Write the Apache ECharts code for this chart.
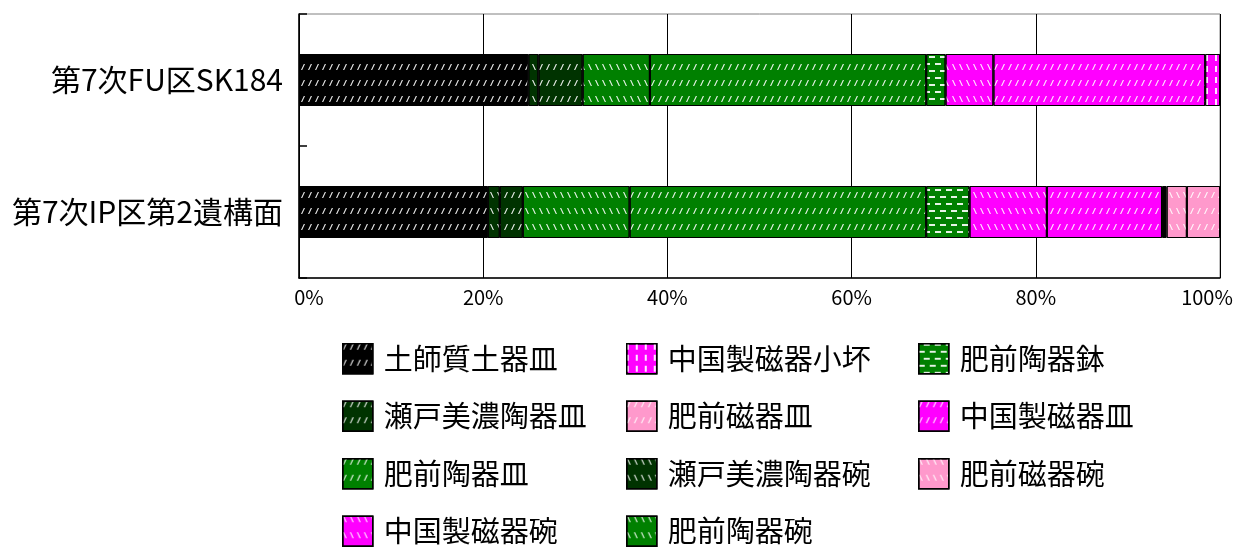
<!DOCTYPE html>
<html>
<head>
<meta charset="utf-8">
<script src="https://cdn.jsdelivr.net/npm/echarts@6/dist/echarts.min.js"></script>
<style>
  html, body { margin: 0; padding: 0; background: #ffffff; }
  #chart { width: 1238px; height: 549px; }
</style>
</head>
<body>
<div id="chart"></div>
<script>
// ---- data (percent of each feature's assemblage) ----
const categories = ['第7次FU区SK184', '第7次IP区第2遺構面'];
const seriesNames = [
  '土師質土器皿', '瀬戸美濃陶器碗', '瀬戸美濃陶器皿', '肥前陶器碗', '肥前陶器皿', '肥前陶器鉢',
  '中国製磁器碗', '中国製磁器皿', '中国製磁器小坏', 'その他', '肥前磁器碗', '肥前磁器皿'
];
const fuSK184Values   = [24.9, 1.1, 4.8, 7.3, 30.0, 2.1, 5.2, 23.0, 1.6, 0, 0, 0];
const ipIsekoumenValues = [20.5, 1.3, 2.5, 11.6, 32.2, 4.7, 8.4, 12.5, 0, 0.5, 2.2, 3.6];
const xTickValues = [0, 20, 40, 60, 80, 100];
const legendColumn1 = ['土師質土器皿', '瀬戸美濃陶器皿', '肥前陶器皿', '中国製磁器碗'];
const legendColumn2 = ['中国製磁器小坏', '肥前磁器皿', '瀬戸美濃陶器碗', '肥前陶器碗'];
const legendColumn3 = ['肥前陶器鉢', '中国製磁器皿', '肥前磁器碗'];

// ---- styles ----
const BLACK = '#000000', DKGREEN = '#003300', GREEN = '#008000', MAGENTA = '#ff00ff', PINK = '#ff99cc';
const W = 'rgba(255,255,255,0.9)';
const SLASH = 'path://M0,10 L3,10 L10,0 L7,0 Z';
const BSLASH = 'path://M0,0 L3,0 L10,10 L7,10 Z';
const decals = {
  fwd:  { symbol: SLASH,  symbolSize: 1, symbolKeepAspect: false, color: W, dashArrayX: [4, 3], dashArrayY: [6, 10], rotation: 0 },
  back: { symbol: BSLASH, symbolSize: 1, symbolKeepAspect: false, color: W, dashArrayX: [4, 3], dashArrayY: [6, 10], rotation: 0 },
  hdash:{ symbol: 'rect', symbolSize: 1, symbolKeepAspect: false, color: W, dashArrayX: [[6, 5], [0, 5, 6, 0]], dashArrayY: [1.5, 5], rotation: 0 },
  vdash:{ symbol: 'rect', symbolSize: 1, symbolKeepAspect: false, color: W, dashArrayX: [1.5, 7], dashArrayY: [6, 5], rotation: 0 }
};
const seriesStyle = [
  [BLACK, 'fwd'], [DKGREEN, 'back'], [DKGREEN, 'fwd'], [GREEN, 'back'], [GREEN, 'fwd'], [GREEN, 'hdash'],
  [MAGENTA, 'back'], [MAGENTA, 'fwd'], [MAGENTA, 'vdash'], [BLACK, null], [PINK, 'back'], [PINK, 'fwd']
];

const FONT = "'Noto Sans CJK JP', 'Noto Sans', sans-serif";

const series = seriesNames.map((name, i) => {
  const [color, dec] = seriesStyle[i];
  const itemStyle = { color: color, borderColor: '#000', borderWidth: 1 };
  if (dec) itemStyle.decal = decals[dec];
  return {
    name: name,
    type: 'bar',
    stack: 'total',
    barWidth: 52,
    itemStyle: itemStyle,
    emphasis: { disabled: true },
    data: [fuSK184Values[i], ipIsekoumenValues[i]].map(v => v === 0 ? '-' : v)
  };
});

function legendCol(left, data) {
  return {
    orient: 'vertical',
    left: left,
    top: 343,
    height: 206,
    padding: 0,
    itemWidth: 30,
    itemHeight: 30,
    itemGap: 26,
    icon: 'rect',
    selectedMode: false,
    data: data,
    itemStyle: { borderColor: '#000', borderWidth: 1.5 },
    textStyle: { fontSize: 29, lineHeight: 30, fontFamily: FONT, color: '#000', padding: [0, 0, 0, 6] }
  };
}

const chart = echarts.init(document.getElementById('chart'), null, { renderer: 'canvas' });
chart.setOption({
  animation: false,
  backgroundColor: '#ffffff',
  grid: { left: 299, right: 18, top: 14, bottom: 271, show: true, borderColor: '#808080', borderWidth: 1, backgroundColor: 'transparent' },
  legend: [legendCol(342, legendColumn1), legendCol(626, legendColumn2), legendCol(918, legendColumn3)],
  xAxis: {
    type: 'value',
    min: xTickValues[0],
    max: xTickValues[xTickValues.length - 1],
    interval: xTickValues[1] - xTickValues[0],
    axisLine: { show: true, lineStyle: { color: '#000', width: 1.5 } },
    axisTick: { show: false },
    splitLine: { show: true, lineStyle: { color: '#000', width: 1 } },
    axisLabel: {
      margin: 9,
      color: '#000',
      fontSize: 20,
      fontFamily: FONT,
      formatter: function (v) {
        if (v === 0) return '{l|' + v + '%}';
        if (v === 100) return '{r|' + v + '%}';
        return '{n|' + v + '%}';
      },
      rich: {
        l: { fontSize: 20, fontFamily: FONT, color: '#000', padding: [0, 0, 0, 20] },
        r: { fontSize: 20, fontFamily: FONT, color: '#000', padding: [0, 26, 0, 0] },
        n: { fontSize: 20, fontFamily: FONT, color: '#000' }
      }
    }
  },
  yAxis: {
    type: 'category',
    inverse: true,
    data: categories,
    axisLine: { show: true, lineStyle: { color: '#000', width: 1.5 } },
    axisTick: { show: true, inside: true, length: 8, lineStyle: { color: '#000', width: 1.5 } },
    splitLine: { show: false },
    axisLabel: { margin: 16, color: '#000', fontSize: 30, fontFamily: FONT }
  },
  series: series
});
</script>
</body>
</html>
